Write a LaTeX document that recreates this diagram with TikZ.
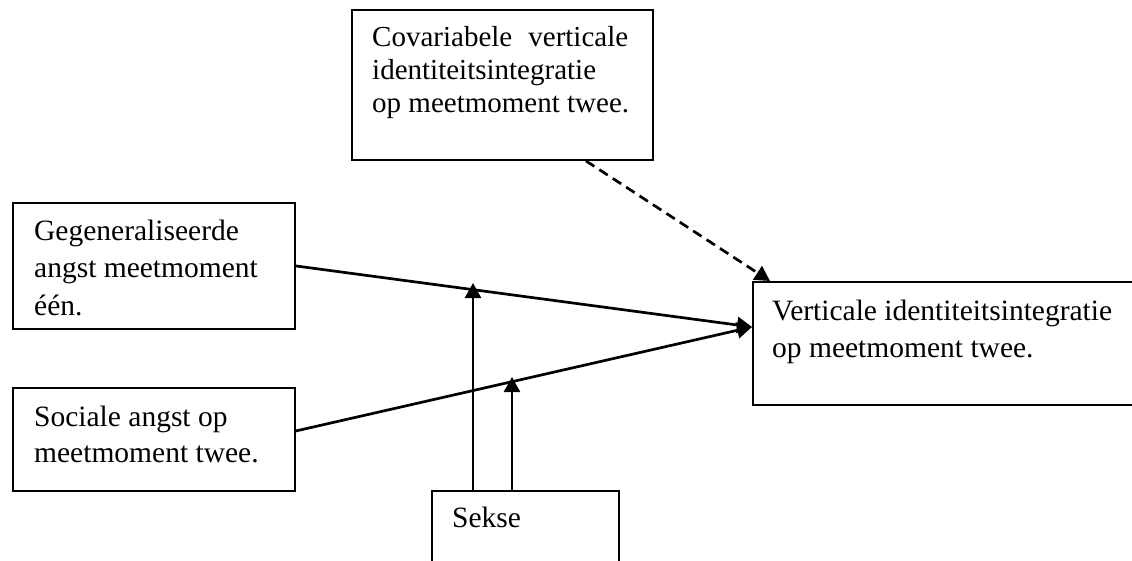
\documentclass[tikz,border=0pt]{standalone}
\usepackage{fontspec}
\setmainfont{Liberation Serif}
\usetikzlibrary{arrows.meta}
\begin{document}
\begin{tikzpicture}[x=1pt,y=-1pt,
  box/.style={draw, line width=1.9pt, inner sep=0pt, anchor=north west},
  lbl/.style={anchor=base west, inner sep=0pt, align=left},
  arr/.style={line width=2.7pt, -{Triangle[length=15pt,width=16pt]}},
  darr/.style={arr, dash pattern=on 10pt off 6pt}]
\useasboundingbox (0,0) rectangle (1132,560);
\clip (0,0) rectangle (1132,560);
\fill[white] (0,0) rectangle (1132,560);
% boxes
\node[box, minimum width=301pt, minimum height=150pt] (cov) at (351,9) {};
\node[box, minimum width=282pt, minimum height=126pt] (gen) at (12,202) {};
\node[box, minimum width=282pt, minimum height=103pt] (soc) at (12,387) {};
\node[box, minimum width=400pt, minimum height=123pt] (vis) at (752,281) {};
\node[box, minimum width=187pt, minimum height=90pt] (sek) at (431,490) {};
% texts (anchored at the baseline of the last line)
\node[lbl, font=\fontsize{29}{33}\selectfont] (covt) at (372,112)
  {\makebox[256pt][l]{Covariabele\hfill verticale}\\identiteitsintegratie\\op meetmoment twee.};
\node[lbl, font=\fontsize{29.5}{37.5}\selectfont] (gent) at (34,315)
  {Gegeneraliseerde\\angst meetmoment\\één.};
\node[lbl, font=\fontsize{29.5}{36}\selectfont] (soct) at (34,462)
  {Sociale angst op\\meetmoment twee.};
\node[lbl, font=\fontsize{29.5}{37}\selectfont] (vist) at (772,357)
  {Verticale identiteitsintegratie\\op meetmoment twee.};
\node[lbl, font=\fontsize{29.5}{37}\selectfont] (sekt) at (452,527) {Sekse};
% connectors
\coordinate (tgt) at ([yshift=16.5pt]vis.west);
\draw[arr] (gen.east) -- (tgt);
\draw[arr] ([yshift=8.5pt]soc.east) -- (tgt);
\coordinate (m1) at (473,283);
\coordinate (m2) at (512,377);
\draw[arr] (sek.north -| m1) -- (m1);
\draw[arr] (sek.north -| m2) -- (m2);
\draw[darr] ([xshift=83.5pt]cov.south) -- ([xshift=18pt]vis.north west);
\end{tikzpicture}
\end{document}
